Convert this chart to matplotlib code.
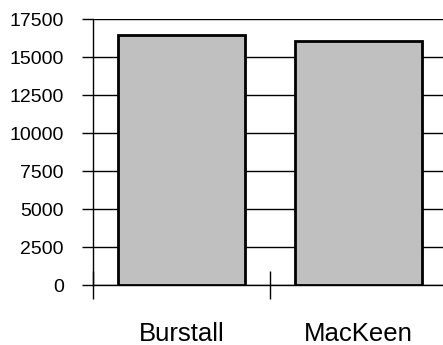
import numpy as np
import matplotlib
matplotlib.use("Agg")
import matplotlib.pyplot as plt

categories = ["Burstall", "MacKeen"]
values = [16480, 16050]
yticks = [0, 2500, 5000, 7500, 10000, 12500, 15000, 17500]

plt.rcParams['font.family'] = ['Liberation Sans', 'DejaVu Sans']

fig = plt.figure(figsize=(4.43, 3.45), dpi=100)
# axis runs slightly past the right edge of the picture, like the original
ax = fig.add_axes([93/443, 1 - 285/345, (447 - 93)/443, (285 - 19)/345])

x = np.arange(len(categories))
ax.bar(x, values, width=0.72, color='#C0C0C0', edgecolor='black', linewidth=2, zorder=3)

ax.set_xlim(-0.5, len(categories) - 0.5)
ax.set_ylim(0, 17500)
ax.set_yticks(yticks)
ax.set_yticklabels([str(v) for v in yticks], fontsize=14)
ax.yaxis.grid(True, color='black', linewidth=1)
ax.set_axisbelow(True)

# category boundaries carry the x ticks, labels sit under the bars
ax.set_xticks([-0.5, 0.5])
ax.set_xticklabels([])
ax.tick_params(axis='x', direction='inout', length=20, width=1)
ax.tick_params(axis='y', direction='out', length=8, width=1, pad=13)
for i, c in enumerate(categories):
    ax.text(x[i], -0.21, c, transform=ax.get_xaxis_transform(),
            ha='center', va='baseline', fontsize=18.5)

for s in ['top', 'right']:
    ax.spines[s].set_visible(False)
ax.spines['left'].set_linewidth(1)
ax.spines['bottom'].set_linewidth(1)

fig.savefig('out.png', dpi=100)
